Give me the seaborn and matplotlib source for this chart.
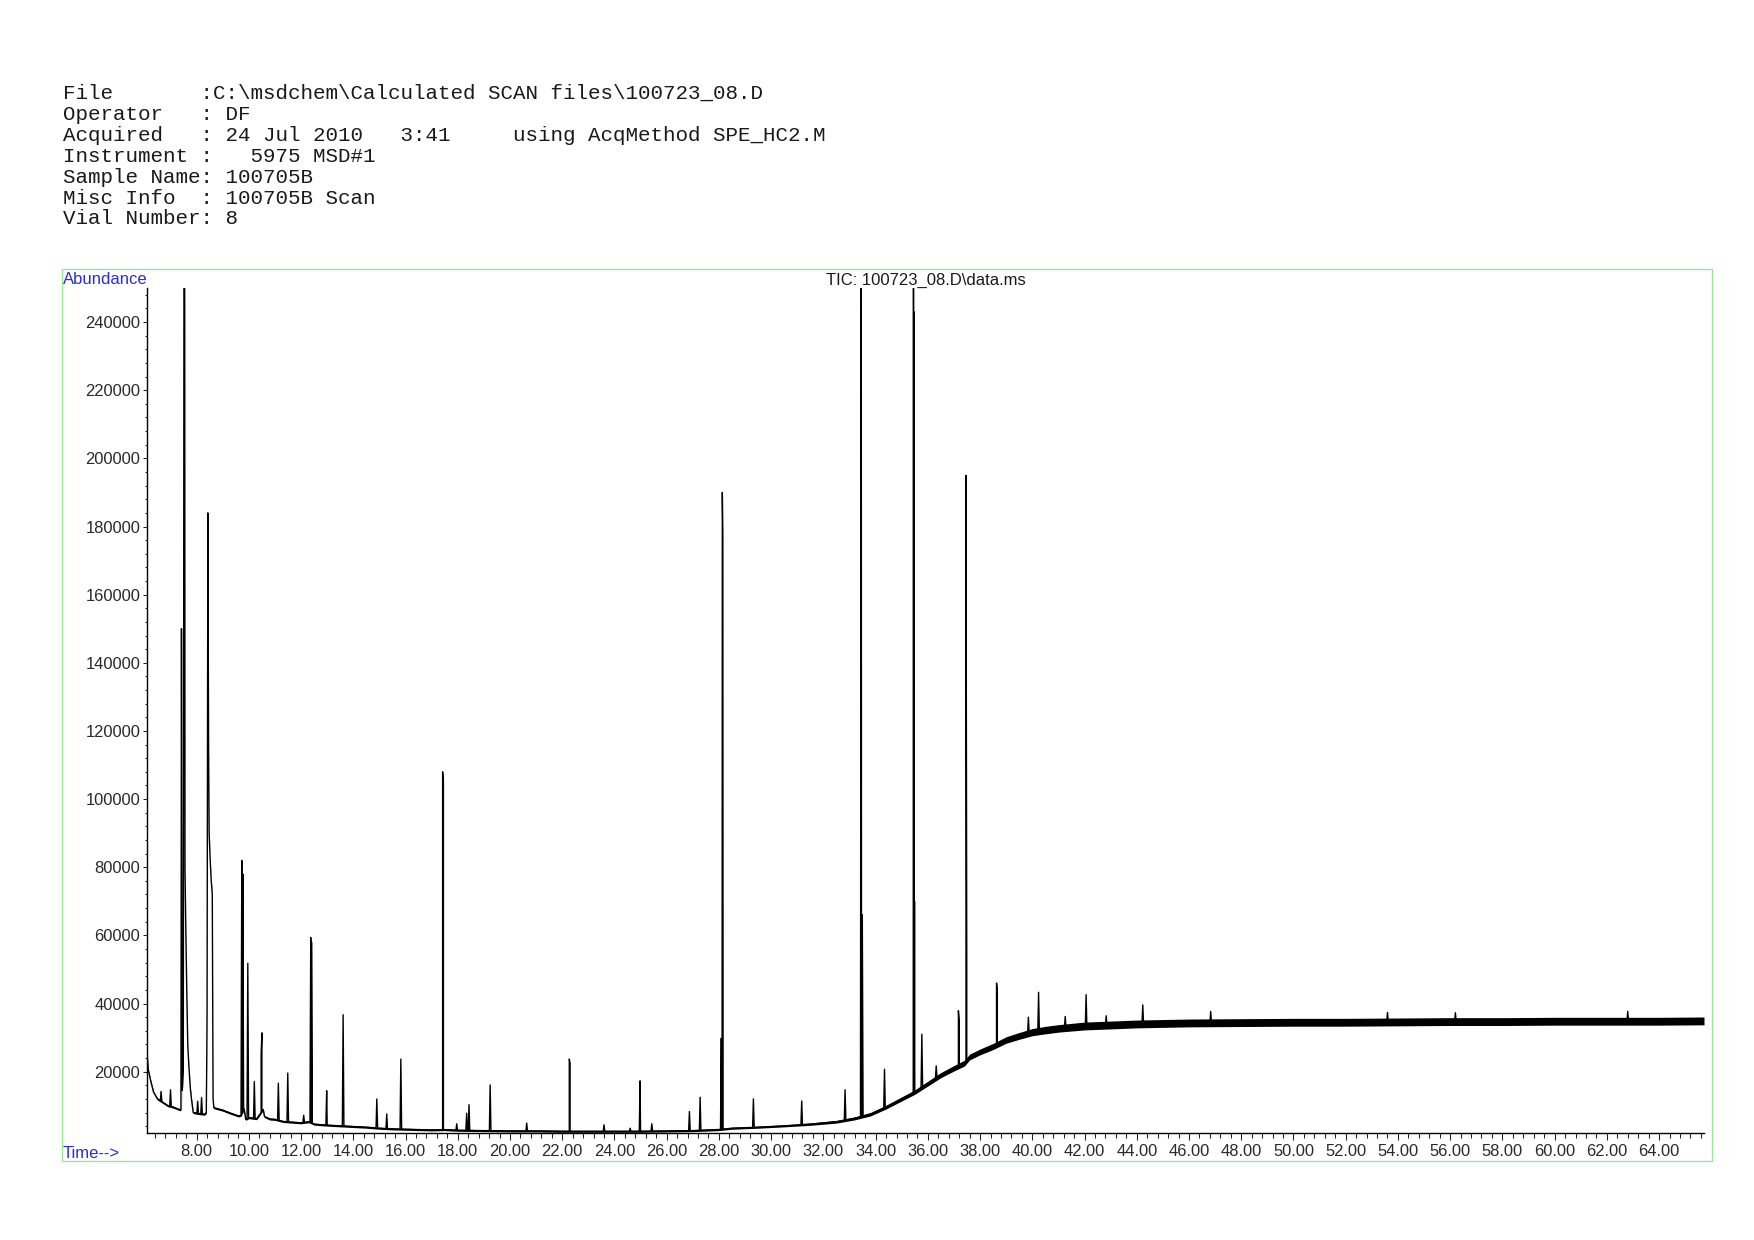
import numpy as np
import pandas as pd
import matplotlib
matplotlib.use('Agg')
import matplotlib.pyplot as plt
from matplotlib.ticker import MultipleLocator
from matplotlib.patches import Rectangle
import seaborn as sns

# Header lines printed above the chromatogram
header_lines = [
    r"File       :C:\msdchem\Calculated SCAN files\100723_08.D",
    r"Operator   : DF",
    r"Acquired   : 24 Jul 2010   3:41     using AcqMethod SPE_HC2.M",
    r"Instrument :   5975 MSD#1",
    r"Sample Name: 100705B",
    r"Misc Info  : 100705B Scan",
    r"Vial Number: 8",
]
plot_title = r"TIC: 100723_08.D\data.ms"

# Background (baseline) knots: time (min), abundance
base_t = [6.10, 6.15, 6.25, 6.35, 6.50, 6.70, 6.90, 7.10, 7.30, 7.38, 7.40,
          7.455, 7.49, 7.545, 7.555, 7.58, 7.62, 7.66, 7.70, 7.76, 7.81, 7.87,
          8.00, 8.30, 8.37, 8.39, 8.46, 8.48, 8.52, 8.56, 8.60, 8.63, 8.66,
          9.00, 9.30, 9.60, 9.70, 9.82, 9.88, 10.00, 10.30, 10.55, 10.60, 10.80,
          11.00, 11.30, 11.60, 12.00, 12.30, 12.50, 13.00, 13.50, 14.00, 14.50,
          15.00, 15.50, 16.00, 17.00, 17.50, 18.00, 19.00, 20.00, 21.00, 22.00,
          23.00, 24.00, 25.00, 26.00, 27.00, 28.00, 28.50, 29.50, 30.50, 31.50,
          32.50, 33.20, 33.80, 34.40, 35.00, 35.50, 36.00, 36.50, 37.00, 37.40,
          37.60, 38.00, 38.50, 39.00, 39.50, 40.00, 40.50, 41.00, 42.00, 43.00,
          44.00, 46.00, 48.00, 50.00, 52.00, 54.00, 56.00, 58.00, 60.00, 62.00,
          64.00, 65.72]
base_y = [25500, 20500, 17000, 14000, 12000, 11000, 10000, 9600, 9000, 8800, 9000,
          15000, 20000, 242000, 80000, 65000, 45000, 28000, 22000, 15000, 11500, 8000,
          7800, 7500, 8000, 25000, 112000, 90000, 82000, 76000, 72000, 12000, 9400,
          8700, 7800, 7000, 7200, 9000, 6000, 6500, 6200, 8900, 6800, 6100,
          6000, 5400, 5200, 5000, 5300, 4600, 4300, 4100, 3900, 3700,
          3400, 3200, 3100, 2900, 3000, 2800, 2700, 2600, 2600, 2500,
          2500, 2500, 2500, 2600, 2700, 3000, 3400, 3700, 4100, 4600,
          5300, 6300, 7500, 9600, 12000, 14000, 16500, 19000, 21000, 22500,
          24300, 25800, 27400, 29300, 30500, 31600, 32200, 32700, 33400, 33700,
          34000, 34300, 34400, 34500, 34500, 34600, 34700, 34700, 34800, 34800,
          34800, 34900]
# Half-width of the noise band around the baseline
noise_amp = [300, 300, 300, 300, 300, 300, 300, 300, 300, 300, 300,
             300, 300, 300, 300, 300, 300, 300, 300, 300, 300, 300,
             300, 300, 300, 300, 300, 300, 300, 300, 300, 300, 300,
             300, 300, 300, 300, 300, 300, 300, 300, 300, 300, 300,
             300, 300, 300, 300, 300, 300, 300, 300, 300, 300,
             300, 300, 300, 300, 300, 300, 300, 300, 300, 300,
             300, 300, 300, 300, 300, 300, 300, 300, 300, 350,
             400, 450, 500, 550, 600, 650, 700, 750, 800, 850,
             850, 850, 900, 950, 1000, 1050, 1100, 1100, 1150, 1150,
             1150, 1150, 1150, 1150, 1150, 1150, 1150, 1150, 1150, 1150,
             1150, 1150]

# Peaks: retention time (min) and apex abundance
peak_t = [6.64, 7.00, 7.42, 7.52, 8.04, 8.19, 8.43, 9.73, 9.77, 9.96, 10.21,
          10.47, 10.50, 11.13, 11.49, 12.10, 12.37, 12.40, 12.98, 13.61, 14.90,
          15.28, 15.82, 17.42, 17.45, 17.96, 18.34, 18.43, 19.24, 20.64, 22.27,
          22.30, 23.60, 24.60, 24.98, 25.43, 26.87, 27.28, 28.09, 28.13, 28.15,
          29.32, 31.17, 32.83, 33.45, 33.49, 34.34, 35.45, 35.47, 35.49, 35.77,
          36.32, 37.17, 37.20, 37.46, 37.49, 38.63, 38.66, 39.85, 40.24, 41.26,
          42.06, 42.83, 44.23, 46.83, 53.60, 56.20, 62.80]
peak_h = [14200, 14700, 150000, 300000, 11300, 12400, 184000, 82000, 78000, 51800, 17100,
          25000, 31400, 16600, 19600, 7200, 59400, 58000, 14400, 36700, 12000,
          7600, 23700, 108000, 105000, 4700, 7800, 10300, 16100, 4900, 23700,
          22500, 4400, 3400, 17300, 4700, 8300, 12500, 29800, 190000, 178500,
          12000, 11400, 14700, 300000, 66000, 20700, 300000, 243000, 70000, 31000,
          21700, 37900, 35200, 195000, 52000, 46000, 44000, 36000, 43300, 36200,
          42600, 36400, 39600, 37700, 37400, 37300, 37700]

x_ticks = [8, 10, 12, 14, 16, 18, 20, 22, 24, 26, 28, 30, 32, 34, 36, 38, 40,
           42, 44, 46, 48, 50, 52, 54, 56, 58, 60, 62, 64]
x_tick_labels = ['8.00', '10.00', '12.00', '14.00', '16.00', '18.00', '20.00',
                 '22.00', '24.00', '26.00', '28.00', '30.00', '32.00', '34.00',
                 '36.00', '38.00', '40.00', '42.00', '44.00', '46.00', '48.00',
                 '50.00', '52.00', '54.00', '56.00', '58.00', '60.00', '62.00',
                 '64.00']
y_ticks = [20000, 40000, 60000, 80000, 100000, 120000, 140000, 160000,
           180000, 200000, 220000, 240000]
y_tick_labels = ['20000', '40000', '60000', '80000', '100000', '120000',
                 '140000', '160000', '180000', '200000', '220000', '240000']

# Build the trace: baseline knots plus a narrow triangle for every peak
bt = np.array(base_t)
by = np.array(base_y)
pt = np.array(peak_t)
ph = np.array(peak_h)
w = 0.03
xs = np.concatenate([bt, pt - w, pt, pt + w])
ys = np.concatenate([by, np.interp(pt - w, bt, by), ph, np.interp(pt + w, bt, by)])
order = np.argsort(xs, kind='stable')
trace = pd.DataFrame({'time': xs[order], 'abundance': ys[order]})

sns.set_style('white')
plt.rcParams['font.family'] = ['Liberation Sans', 'DejaVu Sans']

W, H = 1754, 1240
fig = plt.figure(figsize=(W / 100, H / 100), dpi=100)
fig.patch.set_facecolor('white')

# green frame round the plot area
fig.add_artist(Rectangle((62 / W, 1 - 1161 / H), (1712 - 62) / W, (1161 - 269) / H,
                         transform=fig.transFigure, fill=False,
                         edgecolor='#9fe39f', linewidth=1.0))

ax = fig.add_axes([147 / W, 1 - 1133 / H, (1704 - 147) / W, (1133 - 288) / H])
ax.set_facecolor('none')

nb = np.array(noise_amp)
ax.fill_between(bt, by - nb, by + nb, color='black', linewidth=0)
sns.lineplot(data=trace, x='time', y='abundance', ax=ax, color='black',
             linewidth=1.0, estimator=None, sort=False)

ax.set_xlim(6.1, 65.72)
ax.set_ylim(2000, 250000)
ax.set_xticks(x_ticks)
ax.set_xticklabels(x_tick_labels)
ax.set_yticks(y_ticks)
ax.set_yticklabels(y_tick_labels)
ax.xaxis.set_minor_locator(MultipleLocator(0.4))
ax.yaxis.set_minor_locator(MultipleLocator(4000))
ax.set_xlabel('')
ax.set_ylabel('')

for side in ['top', 'right']:
    ax.spines[side].set_visible(False)
for side in ['left', 'bottom']:
    ax.spines[side].set_color('black')
    ax.spines[side].set_linewidth(1.0)

ax.tick_params(axis='x', which='major', direction='out', length=4.8, width=0.8,
               pad=3.3, labelsize=11.9, labelcolor='#2a2a2a', bottom=True)
ax.tick_params(axis='x', which='minor', direction='out', length=3.4, width=0.8,
               bottom=True)
ax.tick_params(axis='y', which='major', direction='out', length=2.8, width=0.8,
               pad=2, labelsize=11.9, labelcolor='#2a2a2a', left=True)
ax.tick_params(axis='y', which='minor', direction='out', length=1.6, width=0.8,
               left=True)

# header block
for i, line in enumerate(header_lines):
    baseline = 99 + 20.9 * i
    fig.text(63 / W, 1 - baseline / H, line, family='Liberation Mono',
             fontsize=15.0, color='#1a1a1a', va='baseline', ha='left')

fig.text(926 / W, 1 - 280 / H, plot_title, fontsize=12, color='#1a1a1a',
         ha='center', va='center')
fig.text(63 / W, 1 - 280 / H, 'Abundance', fontsize=12, color='#2b2bd9',
         ha='left', va='center')
fig.text(63 / W, 1 - 1154 / H, 'Time-->', fontsize=12, color='#2b2bd9',
         ha='left', va='center')

fig.savefig('out.png', dpi=100, facecolor='white')
